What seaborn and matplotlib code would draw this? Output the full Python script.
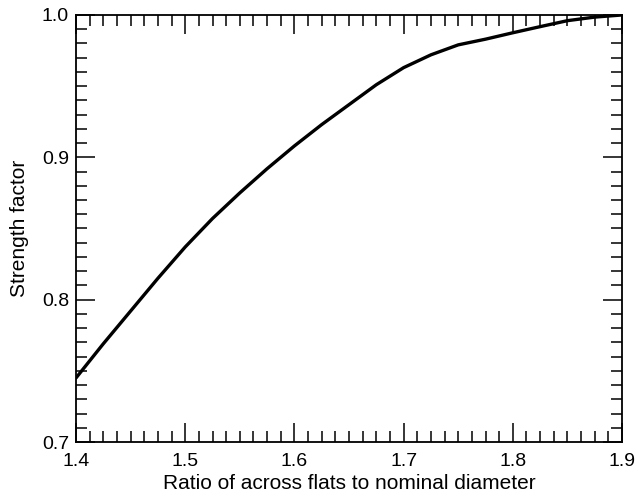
import numpy as np
import pandas as pd
import matplotlib
matplotlib.use("Agg")
import matplotlib.pyplot as plt
from matplotlib.ticker import MultipleLocator
import seaborn as sns

# data
ratio = [1.40, 1.425, 1.45, 1.475, 1.50, 1.525, 1.55, 1.575, 1.60, 1.625, 1.65,
         1.675, 1.70, 1.725, 1.75, 1.775, 1.80, 1.825, 1.85, 1.875, 1.90]
strength = [0.745, 0.769, 0.792, 0.815, 0.837, 0.857, 0.875, 0.892, 0.908, 0.923, 0.937,
            0.951, 0.963, 0.972, 0.979, 0.983, 0.9875, 0.9918, 0.996, 0.9985, 1.000]

df = pd.DataFrame({"ratio": ratio, "strength": strength})

sns.set_theme(style="ticks")
plt.rcParams['font.family'] = ['Liberation Sans', 'DejaVu Sans']

fig = plt.figure(figsize=(6.38, 4.99), dpi=100)
ax = fig.add_axes([0.1191, 0.1142, 0.8559, 0.8558])

sns.lineplot(data=df, x="ratio", y="strength", color="black", linewidth=2.4, ax=ax)

ax.set_xlim(1.4, 1.9)
ax.set_ylim(0.7, 1.0)
ax.xaxis.set_major_locator(MultipleLocator(0.1))
ax.xaxis.set_minor_locator(MultipleLocator(0.0125))
ax.yaxis.set_major_locator(MultipleLocator(0.1))
ax.yaxis.set_minor_locator(MultipleLocator(0.01))
ax.xaxis.set_major_formatter(plt.FormatStrFormatter('%.1f'))
ax.yaxis.set_major_formatter(plt.FormatStrFormatter('%.1f'))

ax.tick_params(which="both", direction="in", top=True, right=True, color="black",
               labelsize=14, labelcolor="black")
ax.tick_params(which="major", length=14, width=1.1)
ax.tick_params(which="minor", length=8, width=1.1)
ax.tick_params(axis="x", which="major", pad=8)
ax.tick_params(axis="y", which="major", pad=5)
for s in ax.spines.values():
    s.set_visible(True)
    s.set_linewidth(1.3)
    s.set_color("black")

ax.set_xlabel("Ratio of across flats to nominal diameter", fontsize=15, labelpad=3, color="black")
ax.set_ylabel("Strength factor", fontsize=15, labelpad=9, color="black")

fig.savefig("out.png", dpi=100)
